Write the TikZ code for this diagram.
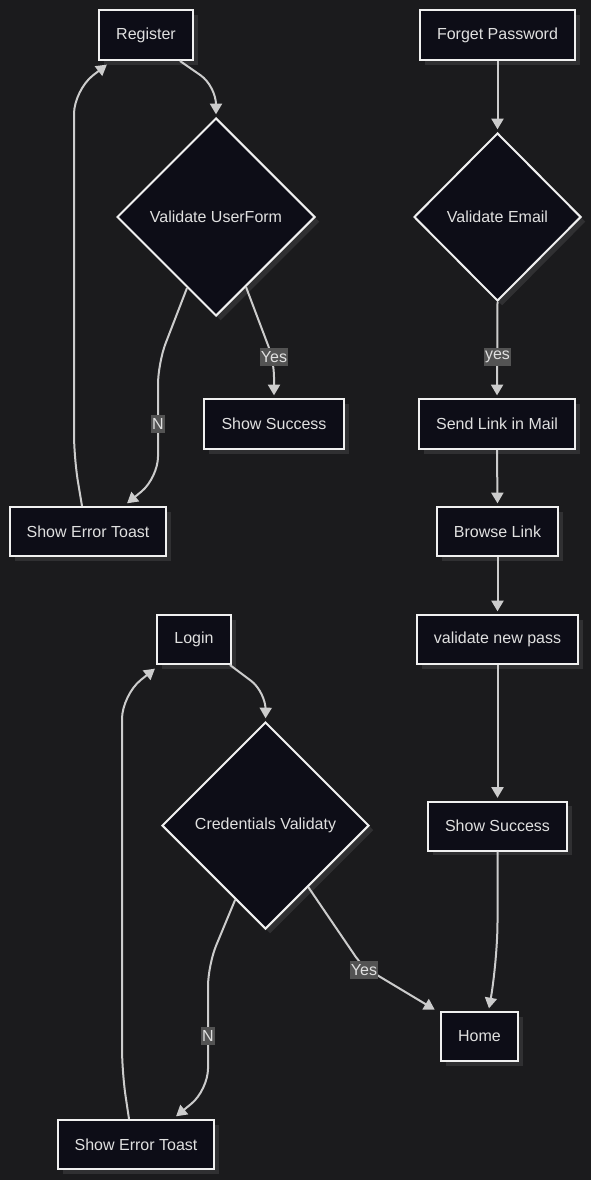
\documentclass[tikz,border=0pt]{standalone}
\usepackage{fontspec}
\setmainfont{Liberation Sans}
\usetikzlibrary{arrows.meta,shapes.geometric,shadows,calc}
\definecolor{bgc}{HTML}{1B1B1D}
\definecolor{nodefill}{HTML}{0D0D17}
\definecolor{nodeline}{HTML}{F0F0F0}
\definecolor{edgec}{HTML}{CCCCCC}
\definecolor{txtc}{HTML}{E0E0E0}
\definecolor{lblfill}{HTML}{535353}
\definecolor{shadowc}{HTML}{303032}
\tikzset{
  shad/.style={drop shadow={shadow xshift=3.5pt,shadow yshift=-3.5pt,fill=shadowc,opacity=1}},
  box/.style={rectangle,draw=nodeline,fill=nodefill,line width=1.5pt,inner sep=0pt,
    minimum height=37.5pt,text=txtc,font=\fontsize{12}{14}\selectfont,shad},
  dia/.style={diamond,draw=nodeline,fill=nodefill,line width=1.5pt,inner sep=0pt,
    text=txtc,font=\fontsize{12}{14}\selectfont,shad},
  edge/.style={draw=edgec,line width=1.5pt,-{Triangle[length=8pt,width=9pt]},shorten >=2pt},
  lbl/.style={fill=lblfill,text=txtc,inner xsep=1pt,inner ysep=2.5pt,font=\fontsize{12}{14}\selectfont}
}
\begin{document}
\begin{tikzpicture}[x=0.75pt,y=-0.75pt]
\fill[bgc] (0,0) rectangle (591,1180);
\useasboundingbox (0,0) rectangle (591,1180);
% nodes
\node[box,minimum width=70.5pt] (reg) at (146,35) {Register};
\node[box,minimum width=116.25pt] (fp) at (497.5,35) {Forget Password};
\node[dia,minimum width=148.5pt,minimum height=148.5pt] (vu) at (216,217) {Validate UserForm};
\node[dia,minimum width=125.25pt,minimum height=126pt] (ve) at (497.5,217) {Validate Email};
\node[box,minimum width=105pt] (ss1) at (274,424) {Show Success};
\node[box,minimum width=117pt,minimum height=36.75pt] (err1) at (88,531.5) {Show Error Toast};
\node[box,minimum width=117pt] (sl) at (497,424) {Send Link in Mail};
\node[box,minimum width=90.75pt,minimum height=36.75pt] (bl) at (497.5,531.5) {Browse Link};
\node[box,minimum width=120.75pt,minimum height=36.75pt] (vn) at (497.5,639.5) {validate new pass};
\node[box,minimum width=55.5pt,minimum height=36.75pt] (login) at (194,639.5) {Login};
\node[dia,minimum width=155.25pt,minimum height=155.25pt] (cv) at (265.5,825.5) {Credentials Validaty};
\node[box,minimum width=104.25pt,minimum height=36.75pt] (ss2) at (497.5,826) {Show Success};
\node[box,minimum width=57.75pt,minimum height=36.75pt] (home) at (479.5,1036.5) {Home};
\node[box,minimum width=117pt,minimum height=36.75pt] (err2) at (136,1144.5) {Show Error Toast};
% edges
\draw[edge,rounded corners=14] ($(reg.south)+(34,0)$) -- (216,86) -- (vu.north);
\draw[edge,rounded corners=12] ($(vu.south)!0.3!(vu.east)$) -- (274,361) -- (ss1.north);
\node[lbl] at (274,357) {Yes};
\draw[edge,rounded corners=16] ($(vu.south)!0.29!(vu.west)$) -- (158,363) -- (158,478) -- ($(err1.north)+(37,-1)$);
\node[lbl] at (158,424) {N};
\draw[edge,rounded corners=18] ($(err1.north)+(-6,0)$) -- (74,458) -- (74,90) -- ($(reg.south west)+(11,2)$);
\draw[edge] (fp.south) -- (ve.north);
\draw[edge] (ve.south) -- (sl.north);
\node[lbl] at (497.5,357) {yes};
\draw[edge] (sl.south) -- (bl.north);
\draw[edge] (bl.south) -- (vn.north);
\draw[edge] (vn.south) -- (ss2.north);
\draw[edge,rounded corners=30] (ss2.south) -- (497.5,962) -- ($(home.north)+(9,0)$);
\draw[edge,rounded corners=14] ($(login.south east)+(-2,0)$) -- (266,692) -- (cv.north);
\draw[edge,rounded corners=8] ($(cv.south)!0.41!(cv.east)$) -- (362,966) -- ($(home.north west)+(-3,0)$);
\node[lbl] at (364,970) {Yes};
\draw[edge,rounded corners=16] ($(cv.south)!0.29!(cv.west)$) -- (208,965) -- (208,1090) -- ($(err2.north)+(38,-1)$);
\node[lbl] at (208,1036) {N};
\draw[edge,rounded corners=18] ($(err2.north)+(-7,0)$) -- (122,1072) -- (122,695) -- ($(login.south west)+(1,2)$);
\end{tikzpicture}
\end{document}
